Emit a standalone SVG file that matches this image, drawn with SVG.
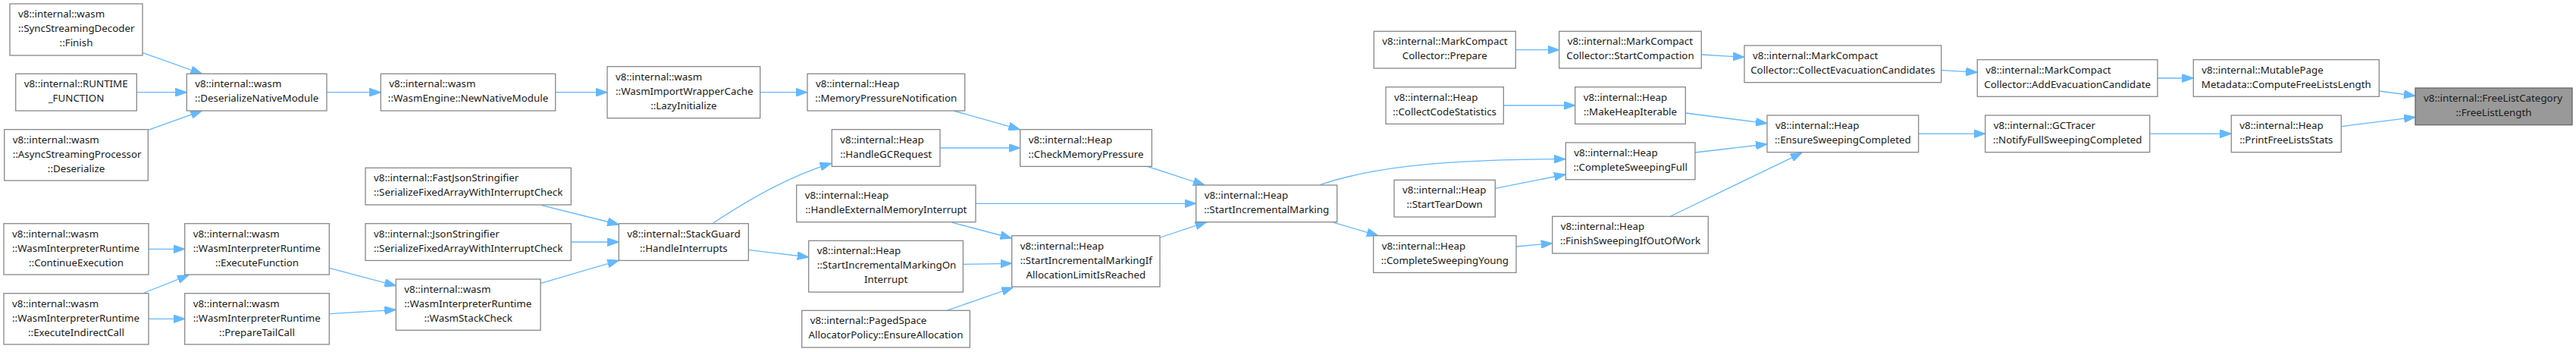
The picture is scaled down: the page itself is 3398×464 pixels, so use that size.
<svg xmlns="http://www.w3.org/2000/svg" width="3398" height="464" viewBox="0 0 3398 464">
<style>
.n rect{fill:#ffffff;stroke:#888888;stroke-width:1.3}
.n.hl rect{fill:#999999;stroke:#666666}
text{font-family:"Noto Sans","Liberation Sans",sans-serif;font-size:13.33px;fill:#1a1a1a}
text.c{text-anchor:middle}
.e path{fill:none;stroke:#63b8ff;stroke-width:1.3;marker-end:url(#ah)}
</style>
<defs>
<marker id="ah" markerUnits="userSpaceOnUse" markerWidth="15" markerHeight="11" viewBox="0 0 14 10" refX="14" refY="5" orient="auto">
<path d="M0,0 L14,5 L0,10 z" fill="#63b8ff" stroke="#63b8ff" stroke-width="1"/>
</marker>
</defs>
<rect width="3398" height="464" fill="#ffffff"/>
<g id="edges" class="e">
<path d="M188.3,69.7 L266.4,97.3"/>
<path d="M180.3,121.7 L246.3,121.7"/>
<path d="M195.6,171.3 L266.4,146"/>
<path d="M431,121.7 L502.3,121.7"/>
<path d="M732.7,121.7 L801,121.7"/>
<path d="M1002.7,121.7 L1065,121.7"/>
<path d="M1258,146 L1345.4,170.7"/>
<path d="M1240,195 L1345.7,195"/>
<path d="M1513.3,219.3 L1589,244"/>
<path d="M1287,268.3 L1577.7,268.3"/>
<path d="M1256,293.3 L1334.5,314"/>
<path d="M1270.3,348.3 L1334.7,347.3"/>
<path d="M1249,409.3 L1336.3,379"/>
<path d="M1530.5,313 L1591.6,292.7"/>
<path d="M940.7,294 C980,268 1040,232 1096.7,215.3"/>
<path d="M987.3,329.3 L1066.7,339"/>
<path d="M714.5,270.7 L816.3,296"/>
<path d="M753.3,319 L816.3,319"/>
<path d="M713.5,373.3 L816.3,343.3"/>
<path d="M196,328.3 L243.7,328.3"/>
<path d="M190,386 L249,362.7"/>
<path d="M196,420.3 L243.7,420.3"/>
<path d="M434.3,353.3 L522.3,376.7"/>
<path d="M434.3,413.7 L522.3,408.3"/>
<path d="M1741.7,243.3 C1800,224 1880,210 2065,209.7"/>
<path d="M1759.3,293.3 L1818,310.7"/>
<path d="M1999.3,65.7 L2056.7,65.7"/>
<path d="M1983.3,139 L2077.7,139"/>
<path d="M1972.3,248.3 L2065,230"/>
<path d="M2000,325 L2047.7,320.7"/>
<path d="M2244.3,72 L2301,75.3"/>
<path d="M2223.3,149 L2331,162.7"/>
<path d="M2236,201 L2331,190"/>
<path d="M2203.7,285 L2377,201.3"/>
<path d="M2560.7,92.7 L2608.3,95.3"/>
<path d="M2530.7,176.3 L2618.7,176.3"/>
<path d="M2846,103 L2893.3,103"/>
<path d="M2835.7,176.3 L2943.3,176.3"/>
<path d="M3138.3,120 L3186,126.3"/>
<path d="M3088.7,166.7 L3186,154.3"/>
</g>
<g id="n1" class="n"><rect x="13" y="5" width="175" height="68"/><text x="24" y="23">v8::internal::wasm</text><text x="24" y="42">::SyncStreamingDecoder</text><text class="c" x="100.5" y="61">::Finish</text></g>
<g id="n2" class="n"><rect x="20.7" y="97.3" width="159.6" height="48.7"/><text x="31.7" y="115.3">v8::internal::RUNTIME</text><text class="c" x="100.5" y="134.3">_FUNCTION</text></g>
<g id="n3" class="n"><rect x="5.7" y="170.7" width="189.6" height="67.3"/><text x="16.7" y="188.7">v8::internal::wasm</text><text x="16.7" y="207.7">::AsyncStreamingProcessor</text><text class="c" x="100.5" y="226.7">::Deserialize</text></g>
<g id="n4" class="n"><rect x="5" y="294.7" width="191" height="67.3"/><text x="16" y="312.7">v8::internal::wasm</text><text x="16" y="331.7">::WasmInterpreterRuntime</text><text class="c" x="100.5" y="350.7">::ContinueExecution</text></g>
<g id="n5" class="n"><rect x="5" y="386.7" width="191" height="67.3"/><text x="16" y="404.7">v8::internal::wasm</text><text x="16" y="423.7">::WasmInterpreterRuntime</text><text class="c" x="100.5" y="442.7">::ExecuteIndirectCall</text></g>
<g id="n6" class="n"><rect x="246.3" y="97.3" width="184.7" height="48.7"/><text x="257.3" y="115.3">v8::internal::wasm</text><text class="c" x="338.65" y="134.3">::DeserializeNativeModule</text></g>
<g id="n7" class="n"><rect x="243.7" y="294.7" width="190.6" height="67.3"/><text x="254.7" y="312.7">v8::internal::wasm</text><text x="254.7" y="331.7">::WasmInterpreterRuntime</text><text class="c" x="339" y="350.7">::ExecuteFunction</text></g>
<g id="n8" class="n"><rect x="243.7" y="386.7" width="190.6" height="67.3"/><text x="254.7" y="404.7">v8::internal::wasm</text><text x="254.7" y="423.7">::WasmInterpreterRuntime</text><text class="c" x="339" y="442.7">::PrepareTailCall</text></g>
<g id="n9" class="n"><rect x="502.3" y="97.3" width="230.4" height="48.7"/><text x="513.3" y="115.3">v8::internal::wasm</text><text class="c" x="617.5" y="134.3">::WasmEngine::NewNativeModule</text></g>
<g id="n10" class="n"><rect x="482" y="221.3" width="271.3" height="48.7"/><text x="493" y="239.3">v8::internal::FastJsonStringifier</text><text class="c" x="617.65" y="258.3">::SerializeFixedArrayWithInterruptCheck</text></g>
<g id="n11" class="n"><rect x="482" y="294.7" width="271.3" height="48.7"/><text x="493" y="312.7">v8::internal::JsonStringifier</text><text class="c" x="617.65" y="331.7">::SerializeFixedArrayWithInterruptCheck</text></g>
<g id="n12" class="n"><rect x="522.3" y="368" width="190.7" height="67.3"/><text x="533.3" y="386">v8::internal::wasm</text><text x="533.3" y="405">::WasmInterpreterRuntime</text><text class="c" x="617.65" y="424">::WasmStackCheck</text></g>
<g id="n13" class="n"><rect x="801" y="87.7" width="201.7" height="68"/><text x="812" y="105.7">v8::internal::wasm</text><text x="812" y="124.7">::WasmImportWrapperCache</text><text class="c" x="901.85" y="143.7">::LazyInitialize</text></g>
<g id="n14" class="n"><rect x="816.3" y="294.7" width="171" height="48.7"/><text x="827.3" y="312.7">v8::internal::StackGuard</text><text class="c" x="901.8" y="331.7">::HandleInterrupts</text></g>
<g id="n15" class="n"><rect x="1065" y="97.3" width="207.7" height="48.7"/><text x="1076" y="115.3">v8::internal::Heap</text><text class="c" x="1168.85" y="134.3">::MemoryPressureNotification</text></g>
<g id="n16" class="n"><rect x="1097.3" y="170.7" width="142.7" height="48.7"/><text x="1108.3" y="188.7">v8::internal::Heap</text><text class="c" x="1168.65" y="207.7">::HandleGCRequest</text></g>
<g id="n17" class="n"><rect x="1050.7" y="244" width="236.3" height="48.7"/><text x="1061.7" y="262">v8::internal::Heap</text><text class="c" x="1168.85" y="281">::HandleExternalMemoryInterrupt</text></g>
<g id="n18" class="n"><rect x="1066.7" y="317.3" width="203.7" height="67.7"/><text x="1077.7" y="335.3">v8::internal::Heap</text><text x="1077.7" y="354.3">::StartIncrementalMarkingOn</text><text class="c" x="1168.55" y="373.3">Interrupt</text></g>
<g id="n19" class="n"><rect x="1057.7" y="409.3" width="221.7" height="48.7"/><text x="1068.7" y="427.3">v8::internal::PagedSpace</text><text class="c" x="1168.55" y="446.3">AllocatorPolicy::EnsureAllocation</text></g>
<g id="n20" class="n"><rect x="1345.7" y="170.7" width="173.7" height="48.7"/><text x="1356.7" y="188.7">v8::internal::Heap</text><text class="c" x="1432.55" y="207.7">::CheckMemoryPressure</text></g>
<g id="n21" class="n"><rect x="1334.7" y="310.7" width="195.3" height="67.3"/><text x="1345.7" y="328.7">v8::internal::Heap</text><text x="1345.7" y="347.7">::StartIncrementalMarkingIf</text><text class="c" x="1432.35" y="366.7">AllocationLimitIsReached</text></g>
<g id="n22" class="n"><rect x="1577.7" y="244" width="186" height="48.7"/><text x="1588.7" y="262">v8::internal::Heap</text><text class="c" x="1670.7" y="281">::StartIncrementalMarking</text></g>
<g id="n23" class="n"><rect x="1812.3" y="41.3" width="187" height="48.7"/><text x="1823.3" y="59.3">v8::internal::MarkCompact</text><text class="c" x="1905.8" y="78.3">Collector::Prepare</text></g>
<g id="n24" class="n"><rect x="1828" y="114.7" width="155.3" height="48.7"/><text x="1839" y="132.7">v8::internal::Heap</text><text class="c" x="1905.65" y="151.7">::CollectCodeStatistics</text></g>
<g id="n25" class="n"><rect x="1839" y="237.3" width="133.3" height="48.7"/><text x="1850" y="255.3">v8::internal::Heap</text><text class="c" x="1905.65" y="274.3">::StartTearDown</text></g>
<g id="n26" class="n"><rect x="1811.7" y="310.7" width="188.3" height="48.7"/><text x="1822.7" y="328.7">v8::internal::Heap</text><text class="c" x="1905.85" y="347.7">::CompleteSweepingYoung</text></g>
<g id="n27" class="n"><rect x="2056.7" y="41.3" width="187.6" height="48.7"/><text x="2067.7" y="59.3">v8::internal::MarkCompact</text><text class="c" x="2150.5" y="78.3">Collector::StartCompaction</text></g>
<g id="n28" class="n"><rect x="2077.7" y="114.7" width="145.6" height="48.7"/><text x="2088.7" y="132.7">v8::internal::Heap</text><text class="c" x="2150.5" y="151.7">::MakeHeapIterable</text></g>
<g id="n29" class="n"><rect x="2065.3" y="188" width="170.7" height="48.7"/><text x="2076.3" y="206">v8::internal::Heap</text><text class="c" x="2150.65" y="225">::CompleteSweepingFull</text></g>
<g id="n30" class="n"><rect x="2047.7" y="285.3" width="205.6" height="48.7"/><text x="2058.7" y="303.3">v8::internal::Heap</text><text class="c" x="2150.5" y="322.3">::FinishSweepingIfOutOfWork</text></g>
<g id="n31" class="n"><rect x="2301" y="60" width="259.7" height="48.7"/><text x="2312" y="78">v8::internal::MarkCompact</text><text class="c" x="2430.85" y="97">Collector::CollectEvacuationCandidates</text></g>
<g id="n32" class="n"><rect x="2331" y="152" width="199.7" height="48.7"/><text x="2342" y="170">v8::internal::Heap</text><text class="c" x="2430.85" y="189">::EnsureSweepingCompleted</text></g>
<g id="n33" class="n"><rect x="2608.3" y="78.7" width="237.7" height="48.6"/><text x="2619.3" y="96.7">v8::internal::MarkCompact</text><text class="c" x="2727.15" y="115.7">Collector::AddEvacuationCandidate</text></g>
<g id="n34" class="n"><rect x="2618.7" y="152" width="217" height="48.7"/><text x="2629.7" y="170">v8::internal::GCTracer</text><text class="c" x="2727.2" y="189">::NotifyFullSweepingCompleted</text></g>
<g id="n35" class="n"><rect x="2893.3" y="78.7" width="245" height="48.6"/><text x="2904.3" y="96.7">v8::internal::MutablePage</text><text class="c" x="3015.8" y="115.7">Metadata::ComputeFreeListsLength</text></g>
<g id="n36" class="n"><rect x="2943.3" y="152" width="145" height="48.7"/><text x="2954.3" y="170">v8::internal::Heap</text><text class="c" x="3015.8" y="189">::PrintFreeListsStats</text></g>
<g id="n37" class="n hl"><rect x="3186" y="116" width="207" height="48.7"/><text x="3197" y="134">v8::internal::FreeListCategory</text><text class="c" x="3289.5" y="153">::FreeListLength</text></g>
</svg>
